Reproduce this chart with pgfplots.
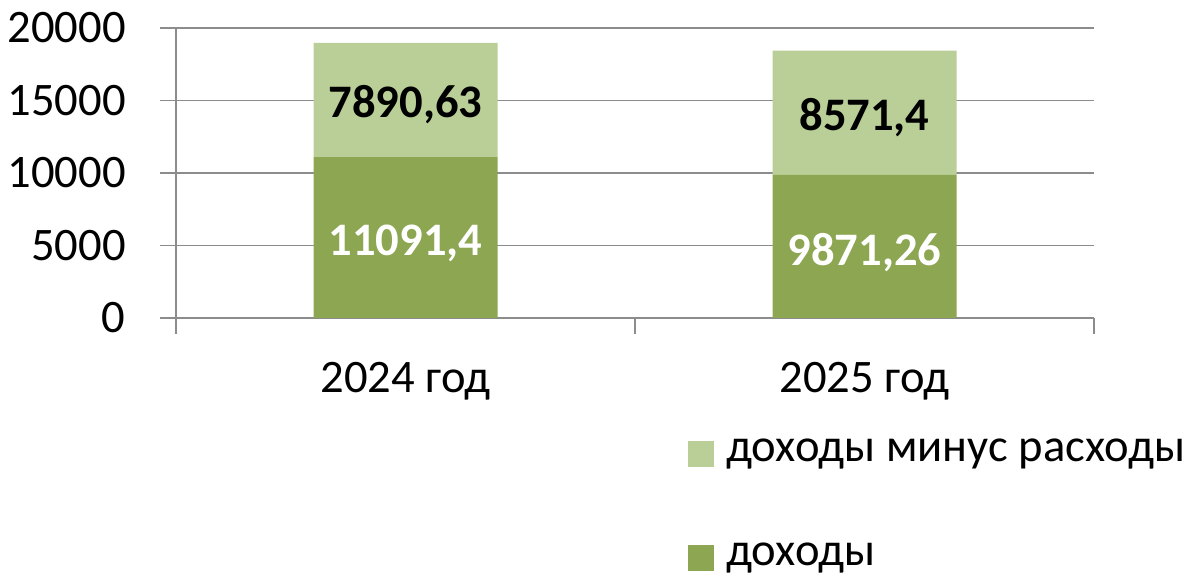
\documentclass[border=0pt]{standalone}
\usepackage{fontspec}
\setmainfont{Carlito}
\usepackage{pgfplots}
\usepackage{pgfplotstable}
\pgfplotsset{compat=1.18}

\definecolor{dark}{HTML}{8CA652}
\definecolor{light}{HTML}{B9CF97}
\definecolor{gridc}{HTML}{8C8C8C}

% income and (income minus expenses), per year
\pgfplotstableread{
x inc net
0 11091.4 7890.63
1 9871.26 8571.4
}\budget

\newcommand{\bigfont}{\fontsize{23.3}{27}\selectfont}

\pgfplotsset{
  frame/.style={
    at={(88pt,-159pt)}, anchor=south west,
    scale only axis, width=459pt, height=145pt,
    xmin=-0.5, xmax=1.5, ymin=0, ymax=20000,
  },
  barlegend/.style={legend image code/.code={\fill[##1] (0pt,-6.5pt) rectangle (13pt,6.5pt);}},
}

\begin{document}
\bigfont
\begin{tikzpicture}
\path[use as bounding box] (0,0) rectangle (600.5pt,-288pt);
\begin{axis}[
  frame,
  ybar stacked, bar width=92pt,
  axis x line*=bottom, axis y line*=left,
  axis line style={-, draw=gridc, line width=0.6pt},
  ytick={0,5000,...,20000},
  ymajorgrids, grid style={gridc, line width=0.6pt},
  xtick={0,1}, xticklabels={2024 год, 2025 год},
  minor xtick={-0.5,0.5,1.5},
  major x tick style={draw=none},
  tick align=outside, major tick length=8pt, minor tick length=8pt,
  tick style={gridc, line width=0.6pt},
  tick label style={font=\bigfont},
  yticklabel style={anchor=east, inner sep=0pt, xshift=-17pt,
    /pgf/number format/.cd, 1000 sep={}, assume math mode=true},
  scaled y ticks=false,
  xticklabel style={anchor=base, inner sep=0pt, yshift=-29pt},
  legend style={draw=none, fill=none, at={(axis description cs:0.5577,-0.403)},
    anchor=north west, inner sep=0pt, row sep=33pt, font=\bigfont,
    /tikz/every odd column/.append style={column sep=4pt}},
  legend cell align=left,
  reverse legend,
]
\addplot[fill=dark, draw=none, barlegend] table[x=x, y=inc] {\budget};
\addlegendentry{доходы}
\addplot[fill=light, draw=none, barlegend] table[x=x, y=net] {\budget};
\addlegendentry{доходы минус расходы}
\end{axis}

% value labels, centred in each segment
\begin{axis}[frame, hide axis,
  nodes near coords={\pgfmathprintnumber[use comma, 1000 sep={}, precision=2, assume math mode=true]{\pgfplotspointmeta}},
  nodes near coords align={center},
]
\addplot[draw=none, mark=none, point meta=\thisrow{inc},
  every node near coord/.append style={font=\bfseries\bigfont, text=white, yshift=-3pt}]
  table[x=x, y expr=\thisrow{inc}/2] {\budget};
\addplot[draw=none, mark=none, point meta=\thisrow{net},
  every node near coord/.append style={font=\bfseries\bigfont, text=black, yshift=-2.5pt}]
  table[x=x, y expr=\thisrow{inc}+\thisrow{net}/2] {\budget};
\end{axis}
\end{tikzpicture}
\end{document}
